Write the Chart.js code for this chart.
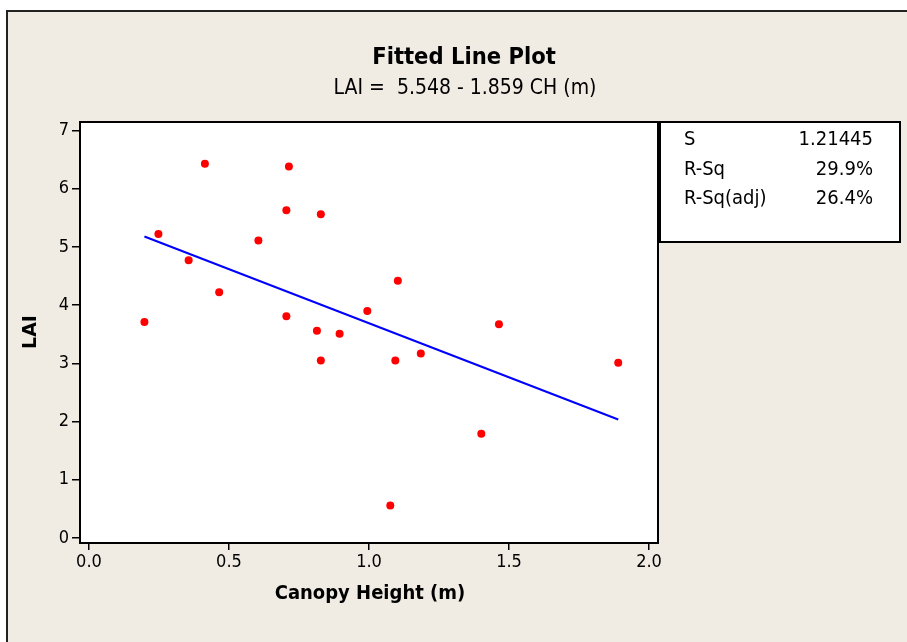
<!DOCTYPE html>
<html>
<head>
<meta charset="utf-8">
<script src="https://cdn.jsdelivr.net/npm/chart.js@4.4.1/dist/chart.umd.min.js"></script>
<style>
  html, body { margin: 0; padding: 0; background: #ffffff; }
  #wrap { width: 907px; height: 642px; position: relative; }
</style>
</head>
<body>
<div id="wrap"><canvas id="c" width="907" height="642"></canvas></div>
<script>
// ---- Data ----
const canopyHeight = [0.198, 0.248, 0.356, 0.414, 0.465, 0.605, 0.705, 0.714, 0.705, 0.814, 0.828,
                      0.828, 0.895, 0.994, 1.103, 1.094, 1.185, 1.076, 1.401, 1.464, 1.890];
const laiValues    = [3.71, 5.22, 4.77, 6.43, 4.22, 5.11, 5.63, 6.38, 3.81, 3.56, 5.56,
                      3.05, 3.51, 3.90, 4.42, 3.05, 3.17, 0.56, 1.79, 3.67, 3.01];
const fitX = [0.198, 1.890];
const fitY = [5.180, 2.035];
const xTicks = [0.0, 0.5, 1.0, 1.5, 2.0];
const yTicks = [0, 1, 2, 3, 4, 5, 6, 7];
const statLabels = ["S", "R-Sq", "R-Sq(adj)"];
const statValues = ["1.21445", "29.9%", "26.4%"];
const titleText = "Fitted Line Plot";
const subtitleText = "LAI =  5.548 - 1.859 CH (m)";
const xTitle = "Canopy Height (m)";
const yTitle = "LAI";

const FONT = "'DejaVu Sans Condensed', 'DejaVu Sans', sans-serif";
const BG = '#F0ECE3';

const points = canopyHeight.map((x, i) => ({ x: x, y: laiValues[i] }));
const fitLine = fitX.map((x, i) => ({ x: x, y: fitY[i] }));

const decor = {
  id: 'decor',
  beforeDraw(chart) {
    const ctx = chart.ctx;
    const a = chart.chartArea;
    ctx.save();
    ctx.fillStyle = '#ffffff';
    ctx.fillRect(0, 0, chart.width, chart.height);
    ctx.fillStyle = BG;
    ctx.fillRect(7, 11, chart.width, chart.height);
    ctx.strokeStyle = '#222';
    ctx.lineWidth = 2;
    ctx.beginPath();
    ctx.moveTo(7, chart.height);
    ctx.lineTo(7, 11);
    ctx.lineTo(chart.width, 11);
    ctx.stroke();
    ctx.fillStyle = '#ffffff';
    ctx.fillRect(a.left, a.top, a.right - a.left, a.bottom - a.top);
    ctx.restore();
  },
  afterDraw(chart) {
    const ctx = chart.ctx;
    const a = chart.chartArea;
    ctx.save();
    // plot frame
    ctx.strokeStyle = '#000';
    ctx.lineWidth = 2;
    ctx.strokeRect(a.left, a.top, a.right - a.left, a.bottom - a.top);
    // titles
    ctx.fillStyle = '#000';
    ctx.textAlign = 'center';
    ctx.textBaseline = 'middle';
    ctx.font = "bold 23.5px " + FONT;
    ctx.fillText(titleText, 464, 58);
    ctx.font = "21px " + FONT;
    ctx.fillText(subtitleText, 465, 89);
    ctx.font = "bold 20px " + FONT;
    ctx.fillText(xTitle, 370, 594);
    ctx.save();
    ctx.translate(31, 332);
    ctx.rotate(-Math.PI / 2);
    ctx.font = "bold 19px 'DejaVu Sans', sans-serif";
    ctx.fillText(yTitle, 0, 0);
    ctx.restore();
    // stats box
    const bx = 660, by = 122, bw = 240, bh = 120;
    ctx.fillStyle = '#ffffff';
    ctx.fillRect(bx, by, bw, bh);
    ctx.strokeStyle = '#000';
    ctx.lineWidth = 2;
    ctx.strokeRect(bx, by, bw, bh);
    ctx.fillStyle = '#000';
    ctx.font = "20px " + FONT;
    ctx.textBaseline = 'middle';
    for (let i = 0; i < statLabels.length; i++) {
      const yy = 140 + i * 29.5;
      ctx.textAlign = 'left';
      ctx.fillText(statLabels[i], 684, yy);
      ctx.textAlign = 'right';
      ctx.fillText(statValues[i], 873, yy);
    }
    ctx.restore();
  }
};

new Chart(document.getElementById('c'), {
  type: 'scatter',
  data: {
    datasets: [
      {
        label: 'LAI',
        data: points,
        backgroundColor: '#FF0000',
        borderColor: '#FF0000',
        pointRadius: 4,
        pointHoverRadius: 4,
        borderWidth: 0,
        order: 1
      },
      {
        label: 'Fit',
        data: fitLine,
        showLine: true,
        borderColor: '#0000FF',
        borderWidth: 2,
        pointRadius: 0,
        fill: false,
        order: 2
      }
    ]
  },
  plugins: [decor],
  options: {
    responsive: false,
    animation: false,
    devicePixelRatio: 1,
    layout: { padding: { left: 0, top: 122, right: 249, bottom: 0 } },
    plugins: { legend: { display: false }, tooltip: { enabled: false }, title: { display: false } },
    scales: {
      x: {
        type: 'linear',
        min: -0.032,
        max: 2.032,
        afterFit(scale) { scale.height = 99; },
        afterBuildTicks(scale) { scale.ticks = xTicks.map(v => ({ value: v })); },
        grid: { drawOnChartArea: false, drawTicks: true, tickLength: 7, color: '#000', lineWidth: 1.5 },
        border: { display: true, color: '#000', width: 2 },
        ticks: {
          color: '#000',
          font: { family: FONT, size: 18 },
          padding: 2,
          maxRotation: 0,
          callback: v => Number(v).toFixed(1)
        }
      },
      y: {
        type: 'linear',
        min: -0.086,
        max: 7.146,
        afterFit(scale) { scale.width = 80; },
        afterBuildTicks(scale) { scale.ticks = yTicks.map(v => ({ value: v })); },
        grid: { drawOnChartArea: false, drawTicks: true, tickLength: 8, color: '#000', lineWidth: 1.5 },
        border: { display: true, color: '#000', width: 2 },
        ticks: {
          color: '#000',
          font: { family: FONT, size: 18 },
          padding: 3,
          callback: v => String(v)
        }
      }
    }
  }
});
</script>
</body>
</html>
